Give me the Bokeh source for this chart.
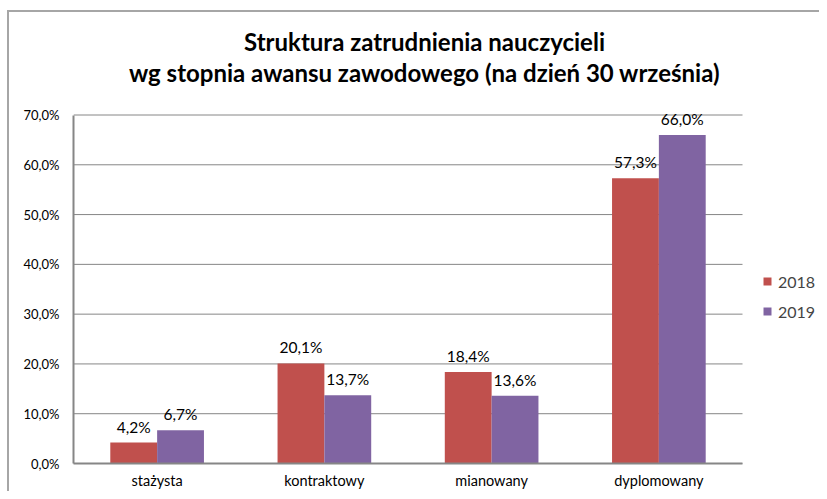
from bokeh.plotting import figure
from bokeh.models import (ColumnDataSource, Range1d, FixedTicker,
                          CustomJSTickFormatter, Legend, LegendItem, Label)
from bokeh.transform import dodge
from bokeh.core.properties import value
from bokeh.embed import file_html
from bokeh.resources import INLINE

categories = ["stażysta", "kontraktowy", "mianowany", "dyplomowany"]
v2018 = [4.2, 20.1, 18.4, 57.3]
v2019 = [6.7, 13.7, 13.6, 66.0]
series_names = ["2018", "2019"]
y_ticks = [0, 10, 20, 30, 40, 50, 60, 70]
title_lines = ["Struktura zatrudnienia nauczycieli",
               "wg stopnia awansu zawodowego (na dzień 30 września)"]

def fmt(v):
    return f"{v:.1f}".replace(".", ",") + "%"

n = len(categories)
xc = [i + 0.5 for i in range(n)]
src = ColumnDataSource(dict(
    x=xc, cat=categories, v2018=v2018, v2019=v2019,
    l2018=[fmt(v) for v in v2018], l2019=[fmt(v) for v in v2019],
))

FONT = "Lato"
RED = "#C0504D"
PURPLE = "#8064A2"
GRID = "#868686"
BORDER = "#a6a6a6"

W, H = 819, 491
LEFT, BOTTOM = 73, 26
PX_PER_CAT = 167.25      # horizontal scale of the plot area
PX_PER_UNIT = 5.0        # vertical scale (px per 1 percentage point)

p = figure(x_range=Range1d(0, (W - LEFT) / PX_PER_CAT),
           y_range=Range1d(0, (H - BOTTOM) / PX_PER_UNIT),
           width=W, height=H, output_backend="svg", toolbar_location=None,
           min_border_left=LEFT, min_border_right=0, min_border_top=0, min_border_bottom=BOTTOM,
           background_fill_alpha=0, border_fill_alpha=0,
           styles={"margin-bottom": "-8px",
                   "background-color": "white",
                   "background-image": f"linear-gradient({BORDER},{BORDER}), linear-gradient({BORDER},{BORDER})",
                   "background-position": "7px 10px, 7px 10px",
                   "background-size": "2px 2000px, 2000px 2px",
                   "background-repeat": "no-repeat, no-repeat"})
p.outline_line_color = None
p.xgrid.visible = False
p.ygrid.visible = False

# horizontal gridlines across the category area
p.segment(x0=0, x1=n, y0=y_ticks, y1=y_ticks, line_color=GRID, line_width=1)

b1 = p.vbar(x=dodge("x", -0.14), top="v2018", width=0.28,
            source=src, fill_color=RED, line_color=None)
b2 = p.vbar(x=dodge("x", 0.14), top="v2019", width=0.28,
            source=src, fill_color=PURPLE, line_color=None)

p.text(x=dodge("x", -0.14), y="v2018", text="l2018", source=src,
       text_align="center", text_baseline="bottom", y_offset=-7,
       text_font=value(FONT), text_font_size="15.5px", text_color="black")
p.text(x=dodge("x", 0.14), y="v2019", text="l2019", source=src,
       text_align="center", text_baseline="bottom", y_offset=-7,
       text_font=value(FONT), text_font_size="15.5px", text_color="black")

# axes
p.yaxis.ticker = FixedTicker(ticks=y_ticks)
p.yaxis.formatter = CustomJSTickFormatter(code="return tick.toFixed(1).replace('.', ',') + '%';")
p.yaxis.bounds = (y_ticks[0], y_ticks[-1])
p.xaxis.ticker = FixedTicker(ticks=xc)
p.xaxis.formatter = CustomJSTickFormatter(args=dict(names=categories),
                                          code="return names[Math.floor(tick)];")
p.xaxis.bounds = (0, n)
for ax in (p.xaxis, p.yaxis):
    ax.axis_line_color = GRID
    ax.axis_line_width = 2
    ax.major_tick_out = 0
    ax.major_tick_in = 0
    ax.minor_tick_line_color = None
    ax.major_label_text_font = FONT
    ax.major_label_text_color = "black"
p.yaxis.major_label_text_font_size = "13px"
p.yaxis.major_label_standoff = 14
p.xaxis.major_label_text_font_size = "14.5px"
p.xaxis.major_label_standoff = 8

# two-line title
for txt, yy in zip(title_lines, [422, 391]):
    p.add_layout(Label(x=351, y=yy, x_units="screen", y_units="screen", text=txt,
                       text_align="center", text_baseline="alphabetic",
                       text_font=FONT, text_font_style="bold", text_font_size="24px",
                       text_color="black"))

legend = Legend(items=[LegendItem(label=series_names[0], renderers=[b1]),
                       LegendItem(label=series_names[1], renderers=[b2])],
                location=(689, 142), orientation="vertical",
                glyph_width=10, glyph_height=10, label_height=20, spacing=10,
                label_standoff=6, padding=0, margin=0,
                border_line_color=None, background_fill_alpha=0,
                label_text_font=FONT, label_text_font_size="16px")
p.add_layout(legend, "center")

open("out.html", "w").write(file_html(p, INLINE))
